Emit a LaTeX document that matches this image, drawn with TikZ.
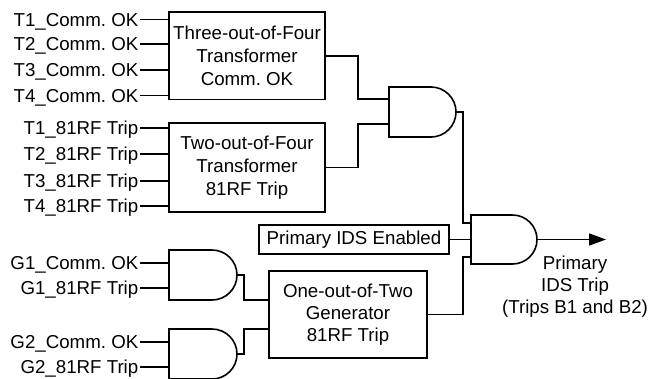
\documentclass[tikz,border=0pt]{standalone}
\usepackage{fontspec}
\setmainfont{Liberation Sans}
\frenchspacing
\usetikzlibrary{calc,arrows.meta}
\tikzset{
  wire/.style={line width=1.6pt, line join=miter},
  blk/.style={draw, line width=1.6pt, inner sep=0pt, outer sep=0pt, align=center},
  gatebox/.style={draw=none, inner sep=0pt, outer sep=0pt},
  lbl/.style={anchor=east, inner xsep=1.5pt, inner ysep=0pt, text height=13.3pt, text depth=0pt},
}
\newcommand\drawand[2]{\draw[wire] (#1.south west) -- (#1.north west) -- ([xshift=-#2]#1.north east) arc[start angle=90,end angle=-90,radius=#2] -- cycle;}
\begin{document}
\begin{tikzpicture}[x=1pt,y=1pt,font=\fontsize{18.7}{23}\selectfont]
\useasboundingbox (0,0) rectangle (650,-378);

% blocks
\node[blk, minimum width=156, minimum height=87.5] (box1) at (247,-55.75) {Three-out-of-Four\\Transformer\\Comm. OK};
\node[blk, minimum width=156, minimum height=89] (box2) at (247,-167.5) {Two-out-of-Four\\Transformer\\81RF Trip};
\node[blk, minimum width=190, minimum height=29] (ids) at (354,-239.5) {Primary IDS Enabled};
\node[blk, minimum width=158, minimum height=87, font=\fontsize{18.7}{22}\selectfont] (box3) at (348,-314.5) {One-out-of-Two\\Generator\\81RF Trip};

% gates
\node[gatebox, minimum width=67, minimum height=50] (g1) at (422.5,-112) {};
\node[gatebox, minimum width=66, minimum height=49] (g2) at (504,-239.5) {};
\node[gatebox, minimum width=68, minimum height=50] (ga) at (203,-275) {};
\node[gatebox, minimum width=68, minimum height=50] (gb) at (203,-354) {};
\drawand{g1}{25pt}
\drawand{g2}{24.5pt}
\drawand{ga}{25pt}
\drawand{gb}{25pt}

% input labels
\node[lbl] (t1c) at (140,-19.5) {T1\_Comm. OK};
\node[lbl] (t2c) at (140,-44) {T2\_Comm. OK};
\node[lbl] (t3c) at (140,-70) {T3\_Comm. OK};
\node[lbl] (t4c) at (140,-95.5) {T4\_Comm. OK};
\node[lbl] (t1r) at (140,-128) {T1\_81RF Trip};
\node[lbl] (t2r) at (140,-154) {T2\_81RF Trip};
\node[lbl] (t3r) at (140,-181) {T3\_81RF Trip};
\node[lbl] (t4r) at (140,-206) {T4\_81RF Trip};
\node[lbl] (g1c) at (140,-263) {G1\_Comm. OK};
\node[lbl] (g1r) at (140,-288) {G1\_81RF Trip};
\node[lbl] (g2c) at (140,-342) {G2\_Comm. OK};
\node[lbl] (g2r) at (140,-367) {G2\_81RF Trip};

\foreach \n in {t1c,t2c,t3c,t4c} \draw[wire] (\n.east) -- (\n.east -| box1.west);
\foreach \n in {t1r,t2r,t3r,t4r} \draw[wire] (\n.east) -- (\n.east -| box2.west);
\foreach \n in {g1c,g1r} \draw[wire] (\n.east) -- (\n.east -| ga.west);
\foreach \n in {g2c,g2r} \draw[wire] (\n.east) -- (\n.east -| gb.west);

% connectors
\draw[wire] (box1.east) -- ++(33,0) |- ($(g1.west)+(0,13)$);
\draw[wire] (box2.east) -- ++(33,0) |- ($(g1.west)+(0,-12)$);
\draw[wire] (g1.east) -- ++(7,0) |- ($(g2.west)+(0,16.5)$);
\draw[wire] (ids.east) -- (ids.east -| g2.west);
\draw[wire] (box3.east) -- ++(36,0) |- ($(g2.west)+(0,-17.5)$);
\draw[wire] (ga.east) -- ++(7,0) |- ($(box3.west)+(0,14.5)$);
\draw[wire] (gb.east) -- ++(7,0) |- ($(box3.west)+(0,-14.5)$);
\coordinate (outend) at ($(g2.east)+(69,0)$);
\draw[wire, -{Triangle[length=17pt,width=12pt]}] (g2.east) -- (outend);

\node[align=center, inner sep=0pt, font=\fontsize{18.7}{22}\selectfont] (outlbl) at (575,-287) {Primary\\IDS Trip\\(Trips B1 and B2)};
\end{tikzpicture}
\end{document}
